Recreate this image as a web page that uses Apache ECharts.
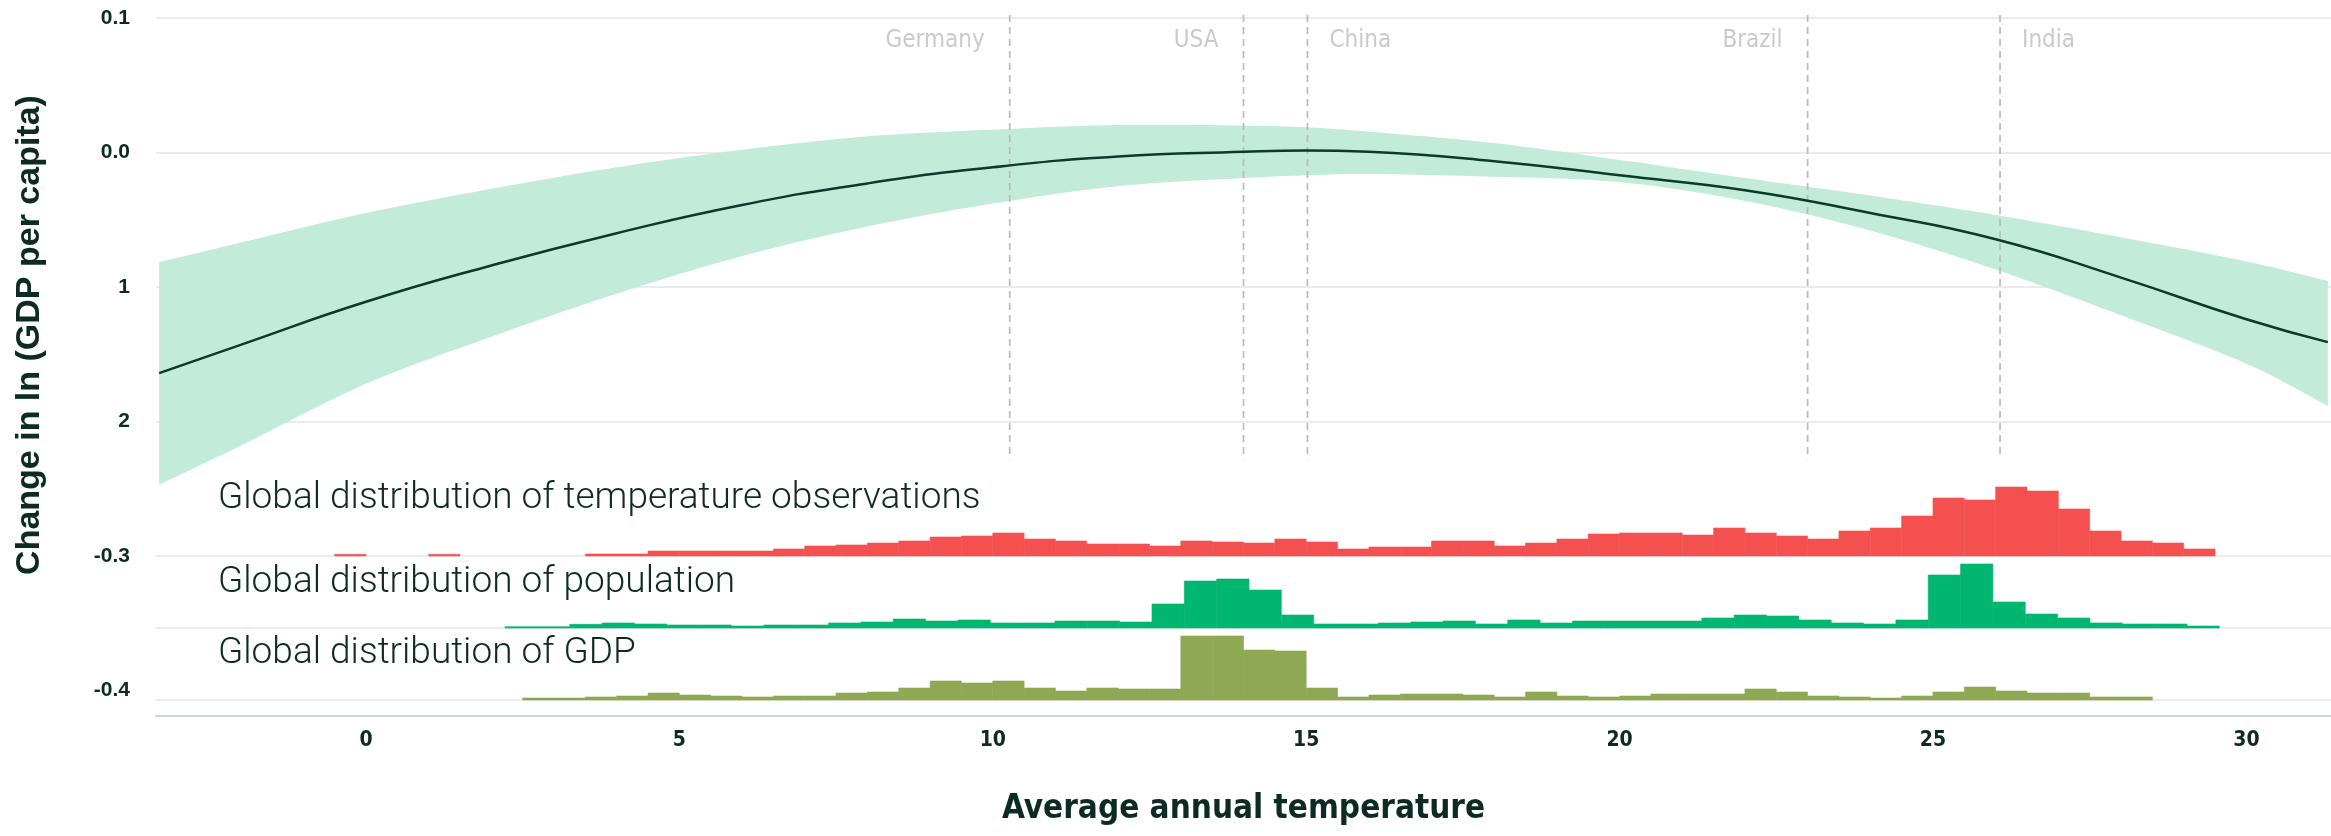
<!DOCTYPE html>
<html>
<head>
<meta charset="utf-8">
<script src="https://cdn.jsdelivr.net/npm/echarts@6/dist/echarts.min.js"></script>
<style>
html, body { margin: 0; padding: 0; background: #fff; }
#chart { width: 2331px; height: 836px; }
</style>
</head>
<body>
<div id="chart"></div>
<script>
// fitted response curve and its confidence band (y in tick-slot units, 0 = top tick)
var temps     = [-3.3, -2, 0, 2, 4, 6, 8, 10, 12, 14, 15, 16, 18, 20, 22, 24, 26, 28, 30, 31.3];
var fitLine   = [2.64, 2.43, 2.11, 1.84, 1.60, 1.39, 1.23, 1.11, 1.03, 0.995, 0.985, 0.995, 1.065, 1.17, 1.28, 1.45, 1.645, 1.93, 2.24, 2.41];
var fitUpper  = [1.815, 1.67, 1.45, 1.27, 1.11, 0.98, 0.88, 0.83, 0.795, 0.80, 0.813, 0.845, 0.93, 1.055, 1.19, 1.32, 1.465, 1.63, 1.81, 1.955];
var fitLower  = [3.47, 3.18, 2.72, 2.37, 2.05, 1.77, 1.55, 1.38, 1.25, 1.19, 1.17, 1.16, 1.18, 1.22, 1.36, 1.58, 1.87, 2.21, 2.57, 2.885];

var yTickLabels = ['0.1', '0.0', '1', '2', '-0.3', '-0.4'];
var xTickValues = [0, 5, 10, 15, 20, 25, 30];

var countries    = ['Germany', 'USA', 'China', 'Brazil', 'India'];
var countryTemps = [10.27, 14.0, 15.02, 23.0, 26.07];

// histograms (bin start, bin width, heights)
var obsStart = -0.5, obsWidth = 0.5;
var obsHist = [1.7, 0, 0, 1.7, 0, 0, 0, 0, 2, 2, 5, 5, 5, 5, 7, 10, 11, 13, 15, 19, 20, 23, 17, 15, 12, 12, 10, 15, 14, 13,
               17, 14, 7, 9, 9, 15, 15, 10, 13, 17, 22, 23, 23, 21, 28, 23, 20, 17, 25, 28, 40, 58, 56, 69, 65, 47, 25, 15, 13, 7];
var popStart = 2.22, popWidth = 0.516;
var popHist = [1.3, 1.3, 3.7, 5, 4, 3, 3, 2, 3, 3, 5, 6, 9, 7, 8, 5, 5, 7, 7, 6, 24, 47, 49, 38, 13, 4, 4,
               5, 6, 7, 4, 8, 5, 7, 7, 7, 7, 10, 13, 12, 8, 5, 4, 8, 53, 64, 26, 14, 10, 5, 4, 4, 2];
var gdpStart = 2.5, gdpWidth = 0.5;
var gdpHist = [2, 2, 3, 4, 7, 5, 4, 3, 4, 4, 7, 8, 12, 19, 17, 19, 12, 9, 12, 11, 11, 64, 64, 50, 49,
               12, 3, 5, 6, 6, 5, 3, 8, 4, 3, 4, 6, 6, 6, 11, 8, 4, 3, 2, 4, 8, 13, 9, 7, 7, 3, 3];

var xMin = -3.35, xMax = 31.35;
var inkColor = '#0d2b22';
var gridColor = '#ebebeb';
var narrowFont = '"DejaVu Sans Condensed", "Liberation Sans Narrow", "Liberation Sans", sans-serif';

function pairs(xs, ys) {
    return xs.map(function (x, i) { return [x, ys[i]]; });
}
function bins(start, width, values) {
    var out = [];
    values.forEach(function (v, i) {
        if (v > 0) out.push([start + i * width, start + (i + 1) * width, v]);
    });
    return out;
}
// catmull-rom through pixel points, only for drawing the band edges smoothly
function smoothPath(pts) {
    var out = [], n = pts.length, steps = 12;
    for (var i = 0; i < n - 1; i++) {
        var p0 = pts[Math.max(i - 1, 0)], p1 = pts[i], p2 = pts[i + 1], p3 = pts[Math.min(i + 2, n - 1)];
        for (var s = 0; s < steps; s++) {
            var t = s / steps, t2 = t * t, t3 = t2 * t;
            out.push([0, 1].map(function (k) {
                return 0.5 * ((2 * p1[k]) + (-p0[k] + p2[k]) * t +
                    (2 * p0[k] - 5 * p1[k] + 4 * p2[k] - p3[k]) * t2 +
                    (-p0[k] + 3 * p1[k] - 3 * p2[k] + p3[k]) * t3);
            }));
        }
    }
    out.push(pts[n - 1]);
    return out;
}
function bandItem(params, api) {
    var up = smoothPath(temps.map(function (t, i) { return api.coord([t, fitUpper[i]]); }));
    var lo = smoothPath(temps.map(function (t, i) { return api.coord([t, fitLower[i]]); }));
    return {
        type: 'polygon',
        shape: { points: up.concat(lo.reverse()) },
        style: { fill: '#c3ebd9' }
    };
}
function histItem(params, api) {
    var a = api.coord([api.value(0), api.value(2)]);
    var b = api.coord([api.value(1), 0]);
    return {
        type: 'rect',
        shape: { x: a[0], y: a[1], width: b[0] - a[0], height: b[1] - a[1] },
        style: { fill: api.visual('color'), stroke: api.visual('color'), lineWidth: 0.6 }
    };
}
function countryLine(params, api) {
    var a = api.coord([api.value(0), -0.022]);
    var b = api.coord([api.value(0), 3.28]);
    return {
        type: 'line',
        shape: { x1: a[0], y1: a[1], x2: b[0], y2: b[1] },
        style: { stroke: '#bababa', lineWidth: 1.7, lineDash: [7, 5] }
    };
}
function hiddenX(i, baseline, offset) {
    return {
        type: 'value', gridIndex: i, min: xMin, max: xMax, offset: offset || 0,
        axisLine: { show: baseline, lineStyle: { color: gridColor, width: 2 } },
        axisTick: { show: false }, axisLabel: { show: false }, splitLine: { show: false }
    };
}
function hiddenY(i) {
    return { type: 'value', gridIndex: i, min: 0, max: 100, show: false };
}
function distLabel(text, y) {
    return {
        type: 'text', x: 218, y: y, z: 100,
        style: { text: text, fill: inkColor, font: '300 37px Roboto, sans-serif', verticalAlign: 'middle' }
    };
}

var echart = echarts.init(document.getElementById('chart'));
var option = {
    backgroundColor: '#fff',
    animation: false,
    grid: [
        { left: 156, right: 0, top: 18, height: 672.5 },
        { left: 156, right: 0, top: 456, height: 100 },
        { left: 156, right: 0, top: 528, height: 100 },
        { left: 156, right: 0, top: 600, height: 100 },
        { left: 156, right: 0, top: 715, height: 1 }
    ],
    xAxis: [
        { type: 'value', gridIndex: 0, min: xMin, max: xMax, show: false },
        hiddenX(1, true),
        hiddenX(2, true),
        hiddenX(3, true, 3),
        {
            type: 'value', gridIndex: 4, min: xMin, max: xMax,
            axisLine: { show: true, lineStyle: { color: '#c9d8d3', width: 2 } },
            axisTick: { show: false },
            splitLine: { show: false },
            axisLabel: {
                customValues: xTickValues, margin: 14,
                color: inkColor, fontSize: 21, fontWeight: 'bold', fontFamily: narrowFont
            },
            name: 'Average annual temperature',
            nameLocation: 'middle', nameGap: 77,
            nameTextStyle: { color: inkColor, fontSize: 33, fontWeight: 'bold', fontFamily: narrowFont }
        }
    ],
    yAxis: [
        {
            type: 'value', gridIndex: 0, min: 0, max: 5, interval: 1, inverse: true,
            axisLine: { show: false }, axisTick: { show: false },
            splitLine: { lineStyle: { color: [gridColor, gridColor, gridColor, gridColor, gridColor, 'rgba(0,0,0,0)'], width: 2 } },
            axisLabel: {
                margin: 26, color: inkColor, fontSize: 21, fontWeight: 'bold',
                fontFamily: 'Liberation Sans, sans-serif', padding: [0, 0, 6, 0],
                formatter: function (v) { return yTickLabels[Math.round(v)]; }
            }
        },
        hiddenY(1), hiddenY(2), hiddenY(3), hiddenY(4)
    ],
    graphic: [
        {
            type: 'text', x: 30, y: 335, rotation: Math.PI / 2, z: 100,
            style: {
                text: 'Change in ln (GDP per capita)', fill: inkColor,
                font: 'bold 34px "Liberation Sans", sans-serif', align: 'center', verticalAlign: 'middle'
            }
        },
        distLabel('Global distribution of temperature observations', 499),
        distLabel('Global distribution of population', 583),
        distLabel('Global distribution of GDP', 654)
    ],
    series: [
        {
            type: 'custom', xAxisIndex: 0, yAxisIndex: 0, renderItem: bandItem,
            data: [[temps[0], fitLine[0]]], silent: true, z: 1
        },
        {
            type: 'custom', xAxisIndex: 0, yAxisIndex: 0, renderItem: countryLine,
            data: countryTemps.map(function (t) { return [t, 0]; }), z: 2
        },
        {
            type: 'line', xAxisIndex: 0, yAxisIndex: 0, smooth: true, symbol: 'none',
            lineStyle: { color: '#0a3a2b', width: 2.5 }, data: pairs(temps, fitLine), z: 3
        },
        {
            type: 'scatter', xAxisIndex: 0, yAxisIndex: 0, symbolSize: 0, silent: true,
            data: countries.map(function (c, i) {
                var right = (c === 'China' || c === 'India');
                return {
                    name: c, value: [countryTemps[i], 0.171],
                    label: { position: right ? 'right' : 'left', distance: right ? 22 : 25 }
                };
            }),
            label: { show: true, formatter: '{b}', color: '#bdbdbd', fontSize: 24, fontFamily: narrowFont }
        },
        {
            type: 'custom', xAxisIndex: 1, yAxisIndex: 1, renderItem: histItem, color: '#f45050',
            encode: { x: [0, 1], y: 2 }, data: bins(obsStart, obsWidth, obsHist)
        },
        {
            type: 'custom', xAxisIndex: 2, yAxisIndex: 2, renderItem: histItem, color: '#00b670',
            encode: { x: [0, 1], y: 2 }, data: bins(popStart, popWidth, popHist)
        },
        {
            type: 'custom', xAxisIndex: 3, yAxisIndex: 3, renderItem: histItem, color: '#8fa853',
            encode: { x: [0, 1], y: 2 }, data: bins(gdpStart, gdpWidth, gdpHist)
        }
    ]
};
echart.setOption(option);
</script>
</body>
</html>
